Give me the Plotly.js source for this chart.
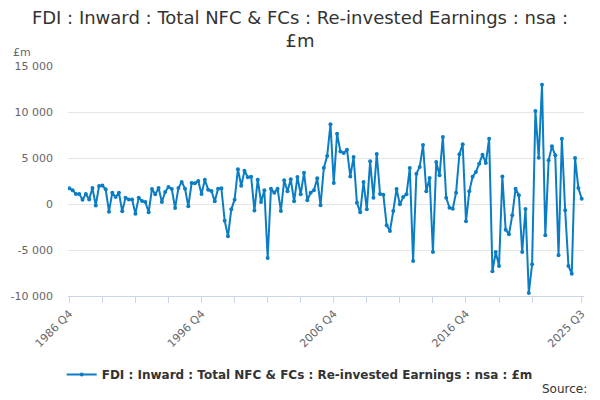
<!DOCTYPE html>
<html>
<head>
<meta charset="utf-8">
<script src="https://cdn.plot.ly/plotly-3.0.1.min.js"></script>
<style>html,body{margin:0;padding:0;background:#fff}#chart{width:600px;height:400px}</style>
</head>
<body>
<div id="chart"></div>
<script>
// Quarterly categories 1986 Q4 .. 2025 Q3
var startYear = 1986, startQ = 4, nPoints = 156;
var quarters = [];
(function(){ var y = startYear, q = startQ; for (var k = 0; k < nPoints; k++) { quarters.push(y + ' Q' + q); q++; if (q > 4) { q = 1; y++; } } })();

// FDI : Inward : Total NFC & FCs : Re-invested Earnings (£m)
var earnings = [
  1700, 1500, 1100, 1100, 470, 1100, 500, 1740, -150, 1960,
  2000, 1600, -830, 1230, 760, 1230, -800, 690, 500, 500,
  -1050, 690, 330, 220, -900, 1630, 1050, 1740, 220, 1300,
  1850, 1630, -430, 1740, 2400, 1670, -250, 2280, 2250, 2500,
  1100, 2640, 1560, 1410, 290, 1670, 1700, -1810, -3510, -580,
  470, 3770, 1990, 3620, 2900, 2970, -720, 2640, 220, 1490,
  -5870, 1670, 1230, 1670, -760, 2570, 1380, 2680, 290, 2930,
  1050, 3410, 400, 1230, 1490, 2790, -140, 3950, 5220, 8660,
  2280, 7640, 5720, 5540, 5900, 3000, 5110, 140, -910, 2390,
  -580, 4640, 690, 5430, 1090, 1010, -2320, -2930, -760, 1630,
  -40, 760, 1050, 3910, -6200, 3300, 4020, 6410, 1380, 2830,
  -5220, 4570, 3120, 7280, 690, -400, -510, 1230, 5400, 6490,
  -1880, 1380, 2970, 3480, 4380, 5360, 4460, 7100, -7320, -5220,
  -6740, 3000, -2790, -3300, -1230, 1670, 940, -5220, -540, -9670,
  -6560, 10100, 5040, 12970, -3410, 4750, 6270, 5290, -5580, 7100,
  -690, -6740, -7570, 5000, 1740, 580
];

var seriesName = 'FDI : Inward : Total NFC & FCs : Re-invested Earnings : nsa : £m';
var titleText = 'FDI : Inward : Total NFC & FCs : Re-invested Earnings : nsa :<br>£m';

var yTickVals = [-10000, -5000, 0, 5000, 10000, 15000];
var yTickText = ['-10 000', '-5 000', '0', '5 000', '10 000', '15 000'];

var xTickIdx = [0, 10, 20, 30, 40, 50, 60, 70, 80, 90, 100, 110, 120, 130, 140, 155];
var xLabelIdx = [0, 40, 80, 120, 155];

var xTickVals = xTickIdx.map(function(i){ return quarters[i]; });
var xTickText = xTickIdx.map(function(i){ return xLabelIdx.indexOf(i) >= 0 ? quarters[i] : ''; });

var font = 'DejaVu Sans, Verdana, sans-serif';

var trace = {
  x: quarters,
  y: earnings,
  type: 'scatter',
  mode: 'lines+markers',
  name: seriesName,
  line: {color: '#0b7dc3', width: 2},
  marker: {color: '#0b7dc3', size: 4},
  showlegend: true
};

var layout = {
  width: 600, height: 400,
  margin: {l: 68, r: 16, t: 66, b: 103},
  paper_bgcolor: '#ffffff',
  plot_bgcolor: '#ffffff',
  font: {family: font, color: '#666666', size: 11},
  title: {
    text: titleText,
    font: {family: font, size: 18, color: '#333333'},
    x: 0.5, xanchor: 'center',
    xref: 'container',
    y: 0.941, yref: 'container', yanchor: 'middle'
  },
  xaxis: {
    type: 'category',
    range: [-0.4, 155.7],
    tickmode: 'array',
    tickvals: xTickVals,
    ticktext: xTickText,
    tickangle: -45,
    ticks: 'outside',
    ticklen: 6,
    tickcolor: '#ccd6eb',
    tickwidth: 1,
    showline: true,
    linecolor: '#ccd6eb',
    linewidth: 1,
    showgrid: false,
    zeroline: false,
    tickfont: {family: font, size: 11, color: '#666666'},
    fixedrange: true
  },
  yaxis: {
    range: [-10000, 15000],
    tickmode: 'array',
    tickvals: yTickVals,
    ticktext: yTickText,
    showgrid: true,
    gridcolor: '#e6e6e6',
    gridwidth: 1,
    zeroline: false,
    showline: false,
    ticks: '',
    ticklabelstandoff: 14,
    tickfont: {family: font, size: 11, color: '#666666'},
    fixedrange: true
  },
  showlegend: true,
  legend: {
    orientation: 'h',
    x: 0.449, xanchor: 'center',
    y: -0.335, yanchor: 'middle',
    font: {family: font, size: 12, color: '#333333', weight: 'bold'},
    itemwidth: 30,
    bgcolor: 'rgba(0,0,0,0)'
  },
  annotations: [
    {text: '£m', xref: 'paper', yref: 'paper', x: -0.11, y: 1.06, xanchor: 'left', yanchor: 'middle', showarrow: false, font: {family: font, size: 11, color: '#666666'}},
    {text: 'Source:', xref: 'paper', yref: 'paper', x: 1.01, y: -0.405, xanchor: 'right', yanchor: 'middle', showarrow: false, font: {family: font, size: 12, color: '#333333'}}
  ]
};

Plotly.newPlot('chart', [trace], layout, {displayModeBar: false, staticPlot: true});
</script>
</body>
</html>
